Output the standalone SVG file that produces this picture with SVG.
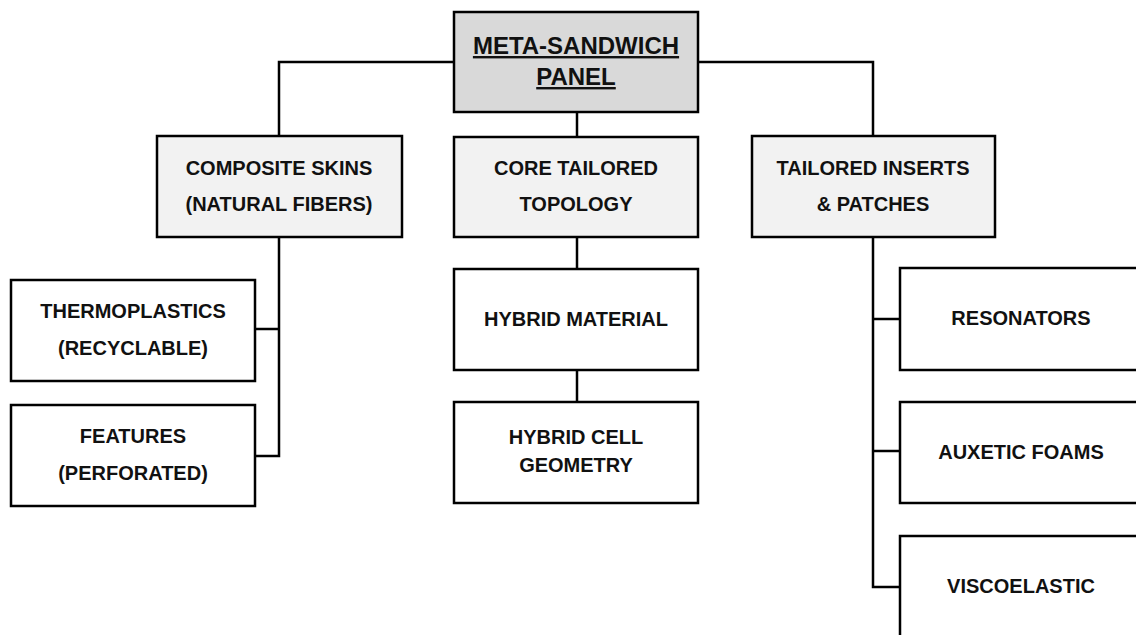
<svg xmlns="http://www.w3.org/2000/svg" width="1136" height="635" viewBox="0 0 1136 635">
<style>
.box{stroke:#000;stroke-width:2.5}
.root{fill:#d9d9d9}
.l1{fill:#f2f2f2}
.l2{fill:#fff}
.lbl{font-family:"Liberation Sans",Arial,sans-serif;font-weight:bold;font-size:20px;fill:#111;text-anchor:middle}
.ttl{font-size:24px;text-decoration:underline}
.conn{fill:none;stroke:#000;stroke-width:2.5}
</style>
<rect width="1136" height="635" fill="#fff"/>
<g id="connectors" class="conn">
<polyline points="454,62 279,62 279,136"/>
<polyline points="698,62 873,62 873,136"/>
<line x1="577" y1="112" x2="577" y2="137"/>
<polyline points="279,237 279,456 255,456"/>
<line x1="255" y1="329" x2="279" y2="329"/>
<line x1="577" y1="237" x2="577" y2="269"/>
<line x1="577" y1="370" x2="577" y2="402"/>
<polyline points="873,237 873,587 900,587"/>
<line x1="873" y1="319" x2="900" y2="319"/>
<line x1="873" y1="451" x2="900" y2="451"/>
</g>
<g id="meta-sandwich-panel">
<rect class="box root" x="454" y="12" width="244" height="100"/>
<text class="lbl ttl" x="576" y="54">META-SANDWICH</text>
<text class="lbl ttl" x="576" y="85">PANEL</text>
</g>
<g id="composite-skins">
<rect class="box l1" x="157" y="136" width="245" height="101"/>
<text class="lbl" x="279" y="175">COMPOSITE SKINS</text>
<text class="lbl" x="279" y="211">(NATURAL FIBERS)</text>
</g>
<g id="core-tailored-topology">
<rect class="box l1" x="454" y="137" width="244" height="100"/>
<text class="lbl" x="576" y="175">CORE TAILORED</text>
<text class="lbl" x="576" y="211">TOPOLOGY</text>
</g>
<g id="tailored-inserts">
<rect class="box l1" x="752" y="136" width="243" height="101"/>
<text class="lbl" x="873" y="175">TAILORED INSERTS</text>
<text class="lbl" x="873" y="211">&amp; PATCHES</text>
</g>
<g id="thermoplastics">
<rect class="box l2" x="11" y="280" width="244" height="101"/>
<text class="lbl" x="133" y="318">THERMOPLASTICS</text>
<text class="lbl" x="133" y="355">(RECYCLABLE)</text>
</g>
<g id="features">
<rect class="box l2" x="11" y="405" width="244" height="101"/>
<text class="lbl" x="133" y="443">FEATURES</text>
<text class="lbl" x="133" y="480">(PERFORATED)</text>
</g>
<g id="hybrid-material">
<rect class="box l2" x="454" y="269" width="244" height="101"/>
<text class="lbl" x="576" y="326">HYBRID MATERIAL</text>
</g>
<g id="hybrid-cell-geometry">
<rect class="box l2" x="454" y="402" width="244" height="101"/>
<text class="lbl" x="576" y="444">HYBRID CELL</text>
<text class="lbl" x="576" y="472">GEOMETRY</text>
</g>
<g id="resonators">
<rect class="box l2" x="900" y="268" width="244" height="102"/>
<text class="lbl" x="1021" y="325">RESONATORS</text>
</g>
<g id="auxetic-foams">
<rect class="box l2" x="900" y="402" width="244" height="101"/>
<text class="lbl" x="1021" y="459">AUXETIC FOAMS</text>
</g>
<g id="viscoelastic">
<rect class="box l2" x="900" y="536" width="244" height="110"/>
<text class="lbl" x="1021" y="593">VISCOELASTIC</text>
</g>
</svg>
